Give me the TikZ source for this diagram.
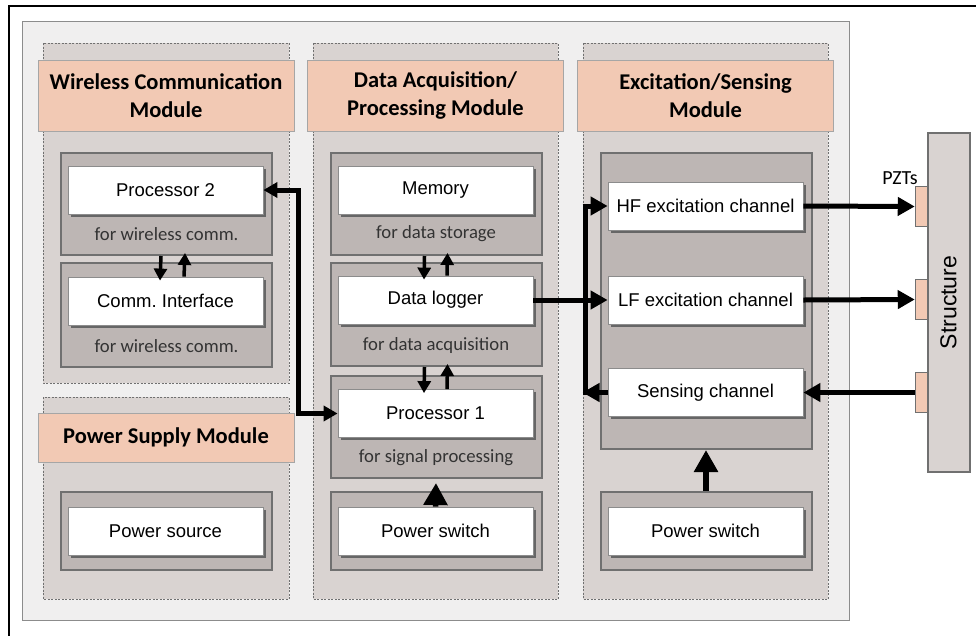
\documentclass[tikz,border=0pt]{standalone}
\usepackage{fontspec}
\newfontfamily\calibri{Carlito}
\newfontfamily\arial{Liberation Sans}
\usetikzlibrary{arrows.meta,shadows,positioning}
\frenchspacing
\definecolor{panelgray}{HTML}{F0EFEF}
\definecolor{modgray}{HTML}{D9D3D1}
\definecolor{subgray}{HTML}{BDB6B4}
\definecolor{salmon}{HTML}{F2C9B4}
\definecolor{edgegray}{HTML}{707070}
\tikzset{
  panel/.style={draw=black!45, line width=1pt, fill=panelgray},
  module/.style={draw=edgegray, line width=1pt, dash pattern=on 2pt off 1.5pt, fill=modgray},
  header/.style={draw=black!35, line width=0.8pt, fill=salmon, minimum width=256pt,
    align=center, font=\calibri\bfseries\fontsize{22.5}{28}\selectfont},
  subbox/.style={draw=edgegray, line width=2pt, fill=subgray, minimum width=211pt},
  unit/.style={draw=black!45, line width=0.8pt, fill=white, minimum width=195pt,
    minimum height=48pt, font=\arial\fontsize{18.5}{20}\selectfont,
    drop shadow={shadow xshift=2.5pt, shadow yshift=-2.5pt, fill=black!60, opacity=1}},
  note/.style={font=\calibri\fontsize{18.7}{20}\selectfont, text=black!80},
  pad/.style={draw=edgegray, line width=1.5pt, fill=salmon, minimum width=12pt, minimum height=40pt,
    inner sep=0pt},
  link/.style={line width=5pt, -{Triangle[length=17pt,width=18pt]}},
  dlink/.style={line width=5pt, {Triangle[length=14pt,width=15pt]}-{Triangle[length=14pt,width=15pt]}},
  pair/.style={line width=3.5pt, -{Triangle[length=12pt,width=13pt]}},
  feed/.style={line width=5.5pt, -{Triangle[length=22pt,width=23pt]}}
}
\begin{document}
\begin{tikzpicture}[x=1pt, y=-1pt]
\useasboundingbox (0,0) rectangle (976,635);
\draw[line width=1.5pt] (9,6) rectangle (1000,660);
\draw[panel] (22,21) rectangle (849,620);

% modules
\draw[module] (43,43) rectangle (289,383);
\draw[module] (43,397) rectangle (289,599);
\draw[module] (313,43) rectangle (558,599);
\draw[module] (583,43) rectangle (828,599);

\node[header, minimum height=71pt] (hwire) at (166,95.5) {Wireless Communication\\Module};
\node[header, minimum height=71pt] (hdata) at (435.5,95.5) {Data Acquisition/\\Processing Module};
\node[header, minimum height=71pt] (hexc) at (705.5,95.5) {Excitation/Sensing\\Module};
\node[header, minimum height=49pt] (hpow) at (166,437.5) {Power Supply Module};

% sub-blocks
\node[subbox, minimum height=102pt] (wbox1) at (166.5,204) {};
\node[subbox, minimum height=104pt] (wbox2) at (166.5,315) {};
\node[subbox, minimum height=78pt] (pbox) at (166.5,531) {};
\node[subbox, minimum height=102pt] (dbox1) at (436,204) {};
\node[subbox, minimum height=103pt] (dbox2) at (436,314.5) {};
\node[subbox, minimum height=102pt] (dbox3) at (436,427) {};
\node[subbox, minimum height=78pt] (dbox4) at (436,531) {};
\node[subbox, minimum height=296pt] (ebox1) at (706,301) {};
\node[subbox, minimum height=78pt] (ebox2) at (706,531) {};

% units
\node[unit] (proctwo) at (165.5,190) {Processor 2};
\node[unit] (comm) at (165.5,301) {Comm. Interface};
\node[unit] (psource) at (165.5,531) {Power source};
\node[unit] (memory) at (435.5,190) {Memory};
\node[unit] (logger) at (435.5,300) {Data logger};
\node[unit] (procone) at (435.5,413.5) {Processor 1};
\node[unit] (pswitcha) at (435.5,531) {Power switch};
\node[unit] (hfch) at (705.5,206) {HF excitation channel};
\node[unit] (lfch) at (705.5,300) {LF excitation channel};
\node[unit] (sensch) at (705.5,392.5) {Sensing channel};
\node[unit] (pswitchb) at (705.5,531) {Power switch};

\node[note] (nwire1) at (166.5,234) {for wireless comm.};
\node[note] (nwire2) at (166.5,346) {for wireless comm.};
\node[note] (nstore) at (436,234) {for data storage};
\node[note] (nacq) at (436,346) {for data acquisition};
\node[note] (nsig) at (436,458) {for signal processing};

% structure and PZTs
\node[draw=edgegray, line width=2pt, fill=modgray, minimum width=42pt, minimum height=339pt]
  (struct) at (948.5,302.5) {};
\node[rotate=90, font=\arial\fontsize{23}{24}\selectfont] (structlbl) at (struct.center) {Structure};
\node[pad] (pzta) at (921.5,206.5) {};
\node[pad] (pztb) at (921.5,299.5) {};
\node[pad] (pztc) at (921.5,392.5) {};
\node[font=\calibri\fontsize{20}{22}\selectfont] (pztlbl) at (900,178) {PZTs};

% connectors
\coordinate (bustop) at (585,206);
\coordinate (busbot) at (585,392.5);
\draw[dlink] (proctwo.east) -- ++(35,0) |- (procone.west);
\draw[link] (logger.east) -- (lfch.west);
\draw[line width=5pt] ([yshift=-2.5pt]busbot) -- ([yshift=2.5pt]bustop);
\draw[link] ([xshift=-2.5pt]bustop) -- (hfch.west);
\draw[link] (sensch.west) -- ([xshift=-2.5pt]busbot);
\draw[link] (hfch.east) -- (pzta.west);
\draw[link] (lfch.east) -- (pztb.west);
\draw[link] (pztc.west) -- (sensch.east);

\draw[pair] ([xshift=-5.5pt]wbox1.south) -- ([xshift=-5.5pt,yshift=-4pt]comm.north);
\draw[pair] ([xshift=18.5pt]comm.north) -- ([xshift=18.5pt,yshift=3pt]wbox1.south);
\draw[pair] ([xshift=-11.5pt]dbox1.south) -- ([xshift=-11.5pt,yshift=-4pt]logger.north);
\draw[pair] ([xshift=11.5pt]logger.north) -- ([xshift=11.5pt,yshift=3pt]dbox1.south);
\draw[pair] ([xshift=-11.5pt]dbox2.south) -- ([xshift=-11.5pt,yshift=-4pt]procone.north);
\draw[pair] ([xshift=11.5pt]procone.north) -- ([xshift=11.5pt,yshift=3pt]dbox2.south);
\draw[feed] (pswitcha.north) -- ([yshift=-4pt]dbox3.south);
\draw[feed] (ebox2.north) -- (ebox1.south);
\end{tikzpicture}
\end{document}
